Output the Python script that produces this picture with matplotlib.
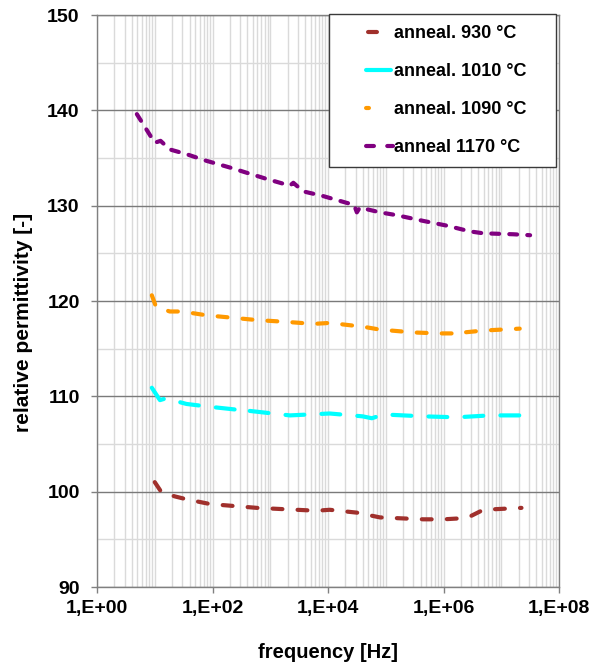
import matplotlib
matplotlib.use("Agg")
import matplotlib.pyplot as plt
from matplotlib.ticker import FixedLocator, FuncFormatter, MultipleLocator, NullFormatter
from matplotlib.lines import Line2D
import numpy as np

plt.rcParams['font.family'] = ['Liberation Sans', 'DejaVu Sans']
plt.rcParams['font.weight'] = 'bold'

# Measured relative permittivity vs. frequency for each annealing temperature
freq_930 = [10, 13.2, 22.4, 35.5, 91, 589, 6300, 10700, 31600, 79400,
            447000, 1000000, 1950000, 2880000, 4900000, 22400000]
eps_930 = [101.0, 99.9, 99.5, 99.2, 98.7, 98.3, 98.0, 98.1, 97.8, 97.3,
           97.1, 97.1, 97.2, 97.4, 98.1, 98.3]

freq_1010 = [8.9, 12.3, 15.8, 20, 35.5, 91, 263, 316, 398, 2190, 10700,
             39800, 57500, 91200, 447000, 1700000, 6300000, 31600000]
eps_1010 = [110.9, 109.6, 109.8, 109.6, 109.2, 108.9, 108.6, 108.9, 108.5,
            108.0, 108.2, 107.9, 107.7, 108.1, 107.9, 107.8, 108.0, 108.0]

freq_1090 = [8.9, 10.5, 18.2, 29.5, 79, 589, 2000, 5620, 10700, 40700,
             79400, 302000, 871000, 1580000, 2000000, 2240000, 4900000, 20900000]
eps_1090 = [120.6, 119.4, 118.9, 118.9, 118.5, 118.0, 117.8, 117.6, 117.7,
            117.3, 117.0, 116.7, 116.6, 116.6, 116.5, 116.7, 116.9, 117.1]

freq_1170 = [4.9, 10, 12.6, 18.2, 35.5, 79, 200, 870, 2190, 2510, 3720, 8300,
             20900, 28200, 31600, 35500, 79400, 155000, 447000, 1150000,
             2880000, 4900000, 16200000, 31600000]
eps_1170 = [139.6, 136.6, 136.8, 135.9, 135.4, 134.7, 134.0, 132.8, 132.1,
            132.4, 131.5, 131.0, 130.3, 130.1, 129.3, 129.8, 129.3, 129.0,
            128.4, 127.9, 127.3, 127.1, 127.0, 126.9]

labels = ["anneal. 930 °C", "anneal. 1010 °C", "anneal. 1090 °C", "anneal 1170 °C"]
colors = ["#A0302C", "#00FFFF", "#FF9900", "#800080"]

x_tick_exponents = [0, 2, 4, 6, 8]

DPI = 100
W, H = 608, 668
LW = 3.0                      # line width in points
U = LW * DPI / 72.0           # one dash unit in pixels


def dash_px(on, off):
    """Dash/gap lengths in pixels -> pattern in linewidth units (round caps)."""
    return ((on - U) / U, (off + U) / U)


line_patterns = [dash_px(14, 11), dash_px(23, 13), dash_px(14, 11), dash_px(12, 6)]

fig = plt.figure(figsize=(W / DPI, H / DPI), dpi=DPI)
ax = fig.add_axes([97 / W, 1 - 587 / H, (559 - 97) / W, (587 - 15) / H])

series = [(freq_930, eps_930), (freq_1010, eps_1010),
          (freq_1090, eps_1090), (freq_1170, eps_1170)]
for (f, e), c, pat in zip(series, colors, line_patterns):
    ax.plot(f, e, color=c, lw=LW, linestyle=(0, pat),
            dash_capstyle='round', solid_capstyle='round',
            dash_joinstyle='round', solid_joinstyle='round', zorder=3)

ax.set_xscale('log')
ax.set_xlim(1, 1e8)
ax.set_ylim(90, 150)

ax.xaxis.set_major_locator(FixedLocator([10.0 ** k for k in x_tick_exponents]))
ax.xaxis.set_major_formatter(FuncFormatter(lambda v, p: "1,E+%02d" % int(round(np.log10(v)))))
minor_x = [k * 10.0 ** n for n in range(0, 8) for k in range(1, 10)]
ax.xaxis.set_minor_locator(FixedLocator(minor_x))
ax.xaxis.set_minor_formatter(NullFormatter())

ax.yaxis.set_major_locator(MultipleLocator(10))
ax.yaxis.set_minor_locator(MultipleLocator(5))

ax.set_axisbelow(True)
ax.grid(which='both', axis='x', color='#dadada', lw=1.0)
ax.grid(which='minor', axis='y', color='#dadada', lw=1.0)
ax.grid(which='major', axis='y', color='#7a7a7a', lw=1.0)

for sp in ax.spines.values():
    sp.set_color('#808080')
    sp.set_linewidth(1.0)

ax.tick_params(which='major', direction='out', length=4.5, width=1.0,
               color='#808080', labelsize=14, labelcolor='black')
ax.tick_params(axis='x', which='major', pad=5)
ax.tick_params(axis='y', which='major', pad=8)
ax.tick_params(which='minor', length=0)

xlab = ax.set_xlabel("frequency [Hz]", fontsize=14.5, fontweight='bold')
xlab.set_verticalalignment('center')
ax.xaxis.set_label_coords(0.5, (587 - 653) / 572)
ylab = ax.set_ylabel("relative permittivity [-]", fontsize=15, fontweight='bold')
ylab.set_verticalalignment('center')
ax.yaxis.set_label_coords((24 - 97) / 462, (587 - 322) / 572)

# Legend samples: visible stroke spans (px within the handle), drawn with an offset
FS = 13
HANDLE_PX = 53.0
sample_spans = [[(26, 39)], [(24, 53)], [(24, 31)], [(24, 36), (41, 51)]]


def sample_style(spans):
    seq = []
    pos = 0.0
    first_start = spans[0][0] + U / 2
    for a, b in spans:
        s, t = a + U / 2, b - U / 2
        if seq:
            seq.append((s - pos + U) / U)
        seq.append(max(t - s, 0.01) / U)
        pos = t
    seq.append((200.0 + U) / U)
    total = sum(seq)
    # shift so the pattern begins with a gap ending at the first stroke
    offset = total - first_start / U
    return (offset, tuple(seq))


handles = [Line2D([], [], color=c, lw=LW, linestyle=sample_style(sp),
                  dash_capstyle='round', solid_capstyle='round')
           for c, sp in zip(colors, sample_spans)]

fs_px = FS * DPI / 72.0
leg = ax.legend(handles, labels, loc='upper left',
                bbox_to_anchor=(329 / W, 1 - 167 / H, 227 / W, 153 / H),
                bbox_transform=fig.transFigure, mode='expand',
                borderaxespad=0, borderpad=0.6, labelspacing=1.17,
                handlelength=HANDLE_PX / fs_px, handletextpad=0.05,
                fancybox=False, framealpha=1, edgecolor='#3a3a3a',
                prop={'size': FS, 'weight': 'bold'})
leg.get_frame().set_linewidth(1.0)
leg.set_zorder(5)

fig.savefig("out.png", dpi=DPI)
